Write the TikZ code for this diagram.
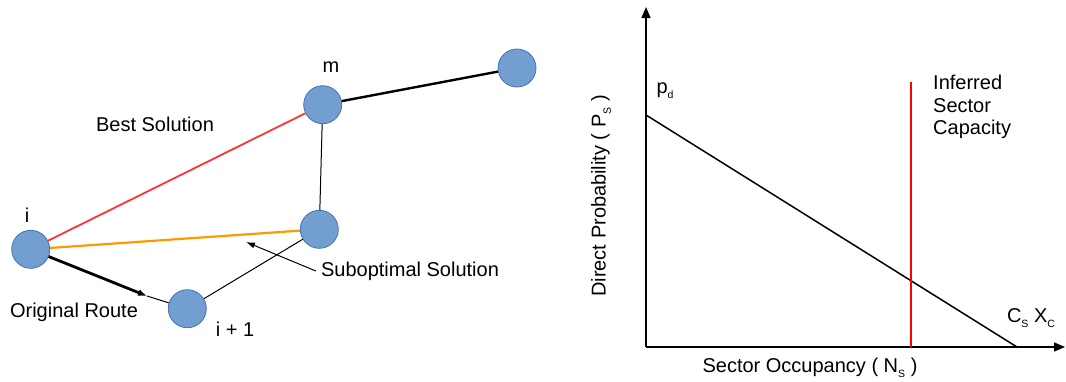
\documentclass[tikz,border=0pt]{standalone}
\usepackage{fontspec}
\setmainfont{Liberation Sans}
\usepackage{xcolor}
\usepackage{tikz}
\usetikzlibrary{arrows.meta}
\definecolor{nodefill}{RGB}{114,159,207}
\definecolor{nodeedge}{RGB}{69,114,176}
\definecolor{bestred}{RGB}{255,51,51}
\definecolor{subor}{RGB}{255,153,0}
\newcommand{\lsub}[1]{\raisebox{-0.5ex}{\fontsize{10.5}{10.5}\selectfont #1}}
\tikzset{
  wpt/.style={circle,fill=nodefill,draw=nodeedge,line width=0.8pt,minimum size=38pt,inner sep=0pt},
  lbl/.style={font=\fontsize{20}{22.5}\selectfont,inner sep=0pt},
  axis/.style={line width=1.4pt,-{Triangle[length=11pt,width=9pt]}}
}
\begin{document}
\begin{tikzpicture}[x=1pt,y=-1pt]
\useasboundingbox (0,0) rectangle (1066,381);
% ---- ROUTE GRAPH ----
\node[wpt] (ni) at (30.7,249.3) {};
\node[wpt] (nip) at (187.3,308.7) {};
\node[wpt] (ns) at (319.3,229.3) {};
\node[wpt] (nm) at (322.7,104.7) {};
\node[wpt] (nt) at (517,68) {};
\coordinate (orig) at (147,296);
\coordinate (subtip) at (246,242);
\draw[bestred,line width=1.8pt] (ni) -- (nm);
\draw[subor,line width=2.2pt] (ni) -- (ns);
\draw[line width=2.8pt,-{Latex[length=9pt,width=7pt]}] (ni) -- (orig);
\draw[line width=1pt] (orig) -- (nip);
\draw[line width=1pt] (nip) -- (ns);
\draw[line width=1pt] (ns) -- (nm);
\draw[line width=2.4pt] (nm) -- (nt);
\node[lbl] (li) at (27,215) {i};
\node[lbl] (lm) at (331,67) {m};
\node[lbl] (lip) at (235,329) {i + 1};
\node[lbl] (lbest) at (155,124) {Best Solution};
\node[lbl] (lorig) at (74,312) {Original Route};
\node[lbl] (lsub) at (410,271) {Suboptimal Solution};
\draw[line width=1pt,-{Latex[length=9pt,width=6pt]}] (lsub.west) ++(-5,0) coordinate (subtail) -- (subtip);
% ---- CHART ----
\coordinate (org) at (646,347);
\coordinate (ytop) at (646,7);
\coordinate (xend) at (1065,347);
\coordinate (pd) at (646,115);
\coordinate (cx) at (1017,347);
\coordinate (captop) at (911,82);
\coordinate (capbot) at (911,347);
\draw[axis] (org) -- (ytop);
\draw[axis] (org) -- (xend);
\draw[line width=1.5pt] (pd) -- (cx);
\draw[red,line width=1.5pt] (captop) -- (capbot);
\node[lbl] (lpd) at (665,91) {p\lsub{d}};
\node[lbl,anchor=west,align=left] (lcap) at (933,107) {Inferred\\Sector\\Capacity};
\node[lbl] (lcx) at (1031,318) {C\lsub{S} X\lsub{C}};
\node[lbl] (lxax) at (810,368) {Sector Occupancy ( N\lsub{S} )};
\node[lbl,rotate=90] (lyax) at (601,196) {Direct Probability ( P\lsub{S} )};
\end{tikzpicture}
\end{document}
